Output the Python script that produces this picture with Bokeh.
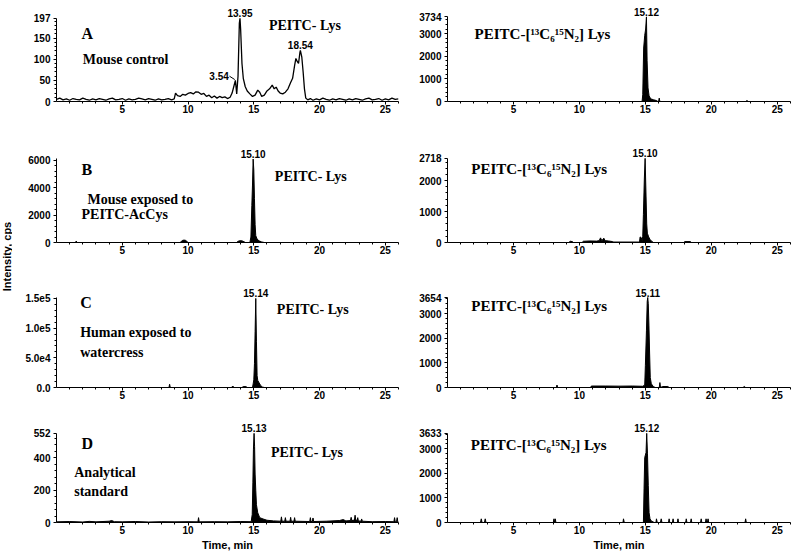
import math
from bokeh.plotting import figure
from bokeh.models import Range1d, FixedTicker, Label
from bokeh.layouts import row, column
from bokeh.core.properties import value
from bokeh.embed import file_html
from bokeh.resources import INLINE

# ---------------- data (time in min, intensity in cps) ----------------
TIME_TICKS = [5, 10, 15, 20, 25]
TIME_MINOR = [m for m in range(1, 27) if m not in TIME_TICKS]

# Panel A - mouse control, PEITC-Lys
a_lys = [(0.0, 5), (0.25, 8), (0.5, 4), (0.75, 6), (1.0, 3), (1.25, 7), (1.5, 5), (1.75, 4), (2.0, 8),
         (2.25, 5), (2.5, 3), (2.75, 6), (3.0, 4), (3.25, 7), (3.5, 5), (3.75, 3), (4.0, 6), (4.25, 8),
         (4.5, 4), (4.75, 5), (5.0, 7), (5.25, 3), (5.5, 6), (5.75, 4), (6.0, 5), (6.25, 8), (6.5, 6),
         (6.75, 4), (7.0, 7), (7.25, 5), (7.5, 3), (7.75, 6), (8.0, 4), (8.25, 5), (8.5, 7), (8.75, 4),
         (8.95, 6), (9.05, 20), (9.2, 14), (9.4, 12), (9.6, 17), (9.8, 15), (10.0, 19), (10.2, 21),
         (10.4, 18), (10.6, 23), (10.8, 22), (11.0, 17), (11.2, 19), (11.4, 12), (11.6, 15), (11.8, 9),
         (12.0, 13), (12.2, 8), (12.4, 12), (12.6, 9), (12.8, 11), (13.0, 7), (13.2, 10), (13.35, 20),
         (13.5, 38), (13.6, 50), (13.7, 18), (13.8, 60), (13.9, 185), (13.95, 197), (14.0, 170),
         (14.1, 90), (14.2, 55), (14.35, 35), (14.5, 25), (14.7, 18), (14.9, 12), (15.1, 15), (15.3, 27),
         (15.45, 22), (15.6, 12), (15.8, 15), (16.0, 25), (16.2, 30), (16.4, 39), (16.55, 30), (16.7, 34),
         (16.85, 25), (17.0, 20), (17.2, 18), (17.4, 22), (17.6, 30), (17.8, 45), (17.95, 55), (18.1, 85),
         (18.2, 102), (18.3, 95), (18.4, 90), (18.5, 115), (18.54, 121), (18.65, 105), (18.75, 70),
         (18.85, 30), (18.95, 8), (19.1, 4), (19.3, 7), (19.5, 3), (19.75, 6), (20.0, 4), (20.25, 8),
         (20.5, 5), (20.75, 3), (21.0, 6), (21.25, 4), (21.5, 7), (21.75, 5), (22.0, 3), (22.25, 6),
         (22.5, 4), (22.75, 7), (23.0, 5), (23.25, 3), (23.5, 6), (23.75, 8), (24.0, 4), (24.25, 5),
         (24.5, 7), (24.75, 3), (25.0, 6), (25.25, 4), (25.5, 8), (25.75, 5), (26.0, 6)]
a_iso = [(0.0, 0), (14.75, 0), (14.8, 300), (14.87, 2360), (14.95, 2920), (15.02, 3200), (15.08, 3734),
         (15.13, 1800), (15.2, 600), (15.28, 250), (15.4, 120), (15.6, 80), (15.85, 40), (15.95, 0),
         (16.0, 0), (16.05, 150), (16.1, 0), (22.6, 0), (22.7, 40), (22.8, 0), (26.0, 0)]

# Panel B - mouse exposed to PEITC-AcCys
b_lys = [(0.0, 0), (1.45, 0), (1.5, 110), (1.55, 0), (9.4, 0), (9.5, 100), (9.6, 160), (9.7, 175),
         (9.8, 160), (9.9, 100), (10.0, 0), (13.7, 0), (13.8, 90), (13.95, 130), (14.1, 120),
         (14.25, 60), (14.35, 0), (14.7, 0), (14.78, 400), (14.85, 2700), (14.9, 4200), (14.95, 6100),
         (15.0, 5300), (15.05, 3200), (15.1, 1300), (15.15, 500), (15.25, 250), (15.4, 120),
         (15.6, 40), (15.8, 0), (26.0, 0)]
b_iso = [(0.0, 0), (9.2, 0), (9.3, 40), (9.45, 30), (9.55, 0), (10.2, 0), (10.3, 40), (10.8, 50),
         (11.3, 45), (11.5, 60), (11.6, 150), (11.7, 60), (11.85, 140), (11.95, 60), (12.2, 50),
         (12.5, 30), (12.6, 15), (14.5, 15), (14.55, 0), (14.6, 180), (14.7, 150), (14.75, 60),
         (14.8, 200), (14.85, 900), (14.92, 2050), (14.98, 2718), (15.05, 1500), (15.1, 600),
         (15.15, 300), (15.25, 180), (15.35, 100), (15.5, 30), (15.6, 0), (17.9, 0), (18.0, 30),
         (18.4, 30), (18.5, 0), (26.0, 0)]

# Panel C - human exposed to watercress
c_lys = [(0.0, 0), (8.55, 0), (8.6, 5500), (8.65, 0), (13.3, 0), (13.4, 2500), (13.5, 0), (14.1, 0),
         (14.2, 1500), (14.4, 1500), (14.5, 0), (14.9, 0), (14.95, 6000), (15.0, 13000),
         (15.05, 40000), (15.1, 94000), (15.15, 150000), (15.2, 78000), (15.25, 20000),
         (15.3, 12000), (15.4, 8000), (15.5, 4000), (15.65, 800), (15.8, 0), (26.0, 0)]
c_iso = [(0.0, 0), (8.25, 0), (8.3, 100), (8.35, 0), (10.85, 0), (10.9, 60), (12.0, 60), (13.0, 55),
         (14.0, 60), (14.8, 50), (14.95, 100), (15.0, 900), (15.08, 2300), (15.14, 3500),
         (15.18, 3654), (15.22, 3400), (15.27, 2500), (15.32, 1400), (15.37, 400), (15.45, 150),
         (15.6, 40), (15.75, 0), (16.05, 0), (16.1, 200), (16.15, 0), (16.3, 40), (16.7, 40),
         (16.8, 0), (22.4, 0), (22.5, 40), (22.6, 0), (26.0, 0)]

# Panel D - analytical standard
d_lys = [(0.0, 4), (1.0, 6), (2.0, 3), (2.5, 7), (3.0, 4), (4.0, 8), (4.2, 12), (4.4, 5), (5.0, 4),
         (6.0, 6), (7.0, 3), (8.0, 5), (9.0, 4), (10.0, 5), (10.75, 4), (10.8, 30), (10.85, 4),
         (12.0, 5), (13.0, 4), (14.0, 6), (14.8, 5), (14.88, 50), (14.93, 250), (14.97, 450),
         (15.02, 552), (15.06, 470), (15.1, 300), (15.15, 200), (15.2, 110), (15.3, 60), (15.45, 30),
         (15.7, 22), (16.0, 14), (16.5, 10), (17.05, 8), (17.1, 35), (17.15, 8), (17.35, 8),
         (17.4, 30), (17.45, 8), (17.75, 8), (17.8, 32), (17.85, 8), (18.05, 8), (18.1, 30),
         (18.15, 8), (19.25, 6), (19.3, 30), (19.35, 6), (19.45, 6), (19.5, 28), (19.55, 6),
         (20.5, 8), (21.5, 12), (21.8, 18), (22.0, 10), (22.35, 12), (22.4, 32), (22.45, 12),
         (22.65, 15), (22.7, 45), (22.75, 15), (22.85, 12), (22.9, 30), (22.95, 10), (23.15, 8),
         (23.2, 22), (23.25, 8), (24.0, 5), (25.0, 6), (25.65, 5), (25.7, 30), (25.75, 5),
         (25.85, 5), (25.9, 30), (25.95, 5), (26.0, 5)]
d_iso = [(0.0, 0), (2.5, 0), (2.56, 150), (2.62, 0), (2.8, 0), (2.86, 150), (2.92, 0), (8.02, 0),
         (8.07, 150), (8.12, 0), (8.13, 0), (8.17, 150), (8.22, 0), (13.3, 0), (13.34, 150),
         (13.4, 0), (14.85, 0), (14.9, 1400), (14.95, 2650), (15.0, 2750), (15.05, 2850),
         (15.1, 3633), (15.16, 2800), (15.22, 1500), (15.28, 400), (15.35, 150), (15.45, 60),
         (15.6, 20), (15.7, 0), (15.8, 0), (15.84, 150), (15.9, 0), (16.14, 0), (16.2, 150),
         (16.26, 0), (16.75, 0), (16.8, 150), (16.85, 0), (17.05, 0), (17.1, 150), (17.15, 0),
         (17.42, 0), (17.47, 150), (17.52, 0), (18.05, 0), (18.1, 150), (18.15, 0), (18.42, 0),
         (18.47, 150), (18.52, 0), (19.18, 0), (19.23, 150), (19.28, 0), (19.55, 0), (19.6, 150),
         (19.65, 0), (19.7, 0), (19.75, 150), (19.8, 0), (22.55, 0), (22.6, 150), (22.65, 0),
         (26.0, 0)]

# y-axis ticks per panel
a_lys_ticks = [0, 50, 100, 150, 197]
a_iso_ticks = [0, 1000, 2000, 3000, 3734]
b_lys_ticks = [0, 2000, 4000, 6000]
b_iso_ticks = [0, 1000, 2000, 2718]
c_lys_ticks = [0, 50000, 100000, 150000]
c_lys_tick_labels = {0: "0.0", 50000: "5.0e4", 100000: "1.0e5", 150000: "1.5e5"}
c_iso_ticks = [0, 1000, 2000, 3000, 3654]
d_lys_ticks = [0, 200, 400, 552]
d_iso_ticks = [0, 1000, 2000, 3000, 3633]

ISO_NAME = "PEITC-[¹³C₆¹⁵N₂] Lys"
LYS_NAME = "PEITC- Lys"

SERIF = "Liberation Serif"
SANS = "Liberation Sans"

# ---------------- layout geometry (page pixels) ----------------
STRIP_W = 12
LW, LBL, LBR = 402, 44, 16      # left column figures: x 12..414, frame 56..398
RW, RBL, RBR = 380, 33, 4       # right column figures: x 414..794, frame 447..790
ROWS = [(0, 140), (140, 277), (277, 415), (415, 553)]
LABEL_PAD = 13


def style_axis(ax):
    ax.axis_line_color = "black"
    ax.axis_line_width = 1
    ax.major_tick_line_color = "black"
    ax.major_tick_out = 3
    ax.major_tick_in = 0
    ax.minor_tick_line_color = "black"
    ax.minor_tick_out = 2
    ax.minor_tick_in = 0
    ax.major_label_text_font = SANS
    ax.major_label_text_font_style = "bold"
    ax.major_label_text_font_size = "10px"
    ax.major_label_text_color = "black"


def panel(trace, yticks, ytop, ystep, col, row_idx, axis_top_px, zero_px,
          filled=True, overrides=None, xlabel=None, lw=1.0):
    w, bl, br = (LW, LBL, LBR) if col == 0 else (RW, RBL, RBR)
    r0, r1 = ROWS[row_idx]
    frame_top = max(r0, axis_top_px - LABEL_PAD)
    bt = frame_top - r0
    bb = r1 - zero_px
    yend = ytop * (zero_px - frame_top) / (zero_px - axis_top_px)
    p = figure(width=w, height=r1 - r0, x_range=Range1d(0, 26), y_range=Range1d(0, yend),
               output_backend="svg", toolbar_location=None,
               min_border_left=bl, min_border_right=br, min_border_top=bt, min_border_bottom=bb)
    p.outline_line_color = None
    p.xgrid.visible = False
    p.ygrid.visible = False
    t = [a for a, b in trace]
    v = [b for a, b in trace]
    if filled:
        p.varea(x=t, y1=0, y2=v, fill_color="black")
    p.line(t, v, line_color="black", line_width=lw)
    xa = p.xaxis[0]
    ya = p.yaxis[0]
    style_axis(xa)
    style_axis(ya)
    xa.ticker = FixedTicker(ticks=TIME_TICKS, minor_ticks=TIME_MINOR)
    xa.major_label_standoff = 0
    minor = [k * ystep for k in range(int(ytop // ystep) + 1)
             if k * ystep not in yticks and k * ystep < ytop]
    ya.ticker = FixedTicker(ticks=yticks, minor_ticks=minor)
    ya.bounds = (0, ytop)
    ya.major_label_standoff = 3
    if overrides:
        ya.major_label_overrides = overrides
    if xlabel:
        xa.axis_label = xlabel
        xa.axis_label_standoff = 2
        xa.axis_label_text_font = SANS
        xa.axis_label_text_font_style = "bold"
        xa.axis_label_text_font_size = "11px"
        xa.axis_label_text_color = "black"
    p.tags = [ytop]
    return p


def note(p, x, yfrac, text, size="14px", font=SERIF, align="left"):
    p.add_layout(Label(x=x, y=yfrac * p.tags[0], text=text, text_font=font,
                       text_font_size=size, text_font_style="bold", text_align=align,
                       text_baseline="middle", text_color="black"))


def peak_label(p, trace, text, lo=0, hi=26):
    pts = [q for q in trace if lo <= q[0] <= hi]
    tx, ty = max(pts, key=lambda q: q[1])
    p.add_layout(Label(x=tx, y=ty, text=text, text_font=SANS, text_font_size="10px",
                       text_font_style="bold", text_align="center", text_baseline="bottom",
                       y_offset=1, text_color="black"))
    return tx, ty


# Row A
pa_l = panel(a_lys, a_lys_ticks, 197, 10, 0, 0, 18, 102, filled=False, lw=1.3)
peak_label(pa_l, a_lys, "13.95", 13.5, 14.5)
peak_label(pa_l, a_lys, "18.54", 18.0, 19.0)
lx, ly = max([q for q in a_lys if 13.4 <= q[0] <= 13.7], key=lambda q: q[1])
pa_l.add_layout(Label(x=lx - 0.5, y=ly + 11, text="3.54", text_font=SANS, text_font_size="10px",
                      text_font_style="bold", text_align="right", text_baseline="middle",
                      text_color="black"))
pa_l.segment(x0=[lx - 0.45], y0=[ly + 10], x1=[lx - 0.05], y1=[ly + 2], line_color="black", line_width=1)
note(pa_l, 1.9, 0.82, "A", "16px")
note(pa_l, 2.0, 0.50, "Mouse control")
note(pa_l, 16.15, 0.92, LYS_NAME)

pa_r = panel(a_iso, a_iso_ticks, 3734, 200, 1, 0, 12, 101)
peak_label(pa_r, a_iso, "15.12")
note(pa_r, 2.05, 0.80, ISO_NAME, "15px")

# Row B
pb_l = panel(b_lys, b_lys_ticks, 6150, 400, 0, 1, 157, 242)
peak_label(pb_l, b_lys, "15.10")
note(pb_l, 1.9, 0.87, "B", "16px")
note(pb_l, 2.35, 0.51, "Mouse exposed to")
note(pb_l, 1.9, 0.33, "PEITC-AcCys")
note(pb_l, 16.6, 0.78, LYS_NAME)

pb_r = panel(b_iso, b_iso_ticks, 2718, 200, 1, 1, 158, 243)
peak_label(pb_r, b_iso, "15.10")
note(pb_r, 1.8, 0.87, ISO_NAME, "15px")

# Row C
pc_l = panel(c_lys, c_lys_ticks, 152000, 10000, 0, 2, 295, 387, overrides=c_lys_tick_labels)
peak_label(pc_l, c_lys, "15.14")
note(pc_l, 1.8, 0.94, "C", "16px")
note(pc_l, 1.8, 0.61, "Human exposed to")
note(pc_l, 1.8, 0.39, "watercress")
note(pc_l, 16.75, 0.86, LYS_NAME)

pc_r = panel(c_iso, c_iso_ticks, 3654, 200, 1, 2, 297, 387)
peak_label(pc_r, c_iso, "15.11")
note(pc_r, 1.8, 0.91, ISO_NAME, "15px")

# Row D
pd_l = panel(d_lys, d_lys_ticks, 552, 40, 0, 3, 433, 523, xlabel="Time, min")
peak_label(pd_l, d_lys, "15.13")
note(pd_l, 1.9, 0.89, "D", "16px")
note(pd_l, 1.35, 0.56, "Analytical")
note(pd_l, 1.35, 0.35, "standard")
note(pd_l, 16.3, 0.78, LYS_NAME)

pd_r = panel(d_iso, d_iso_ticks, 3633, 200, 1, 3, 433, 523, xlabel="Time, min")
peak_label(pd_r, d_iso, "15.12")
note(pd_r, 1.77, 0.87, ISO_NAME, "15px")

# shared y label strip
TOTAL_H = ROWS[-1][1]
strip = figure(width=STRIP_W, height=TOTAL_H, x_range=Range1d(0, STRIP_W), y_range=Range1d(0, TOTAL_H),
               output_backend="svg", toolbar_location=None,
               min_border_left=0, min_border_right=0, min_border_top=0, min_border_bottom=0)
strip.axis.visible = False
strip.grid.visible = False
strip.outline_line_color = None
strip.text(x=[6], y=[TOTAL_H - 256], text=["Intensity, cps"], angle=math.pi / 2,
           text_font=value(SANS), text_font_style="bold", text_font_size="11px",
           text_align="center", text_baseline="middle", text_color="black")

grid = column(row(pa_l, pa_r), row(pb_l, pb_r), row(pc_l, pc_r), row(pd_l, pd_r))
layout = row(strip, grid)

open("out.html", "w").write(file_html(layout, INLINE))
